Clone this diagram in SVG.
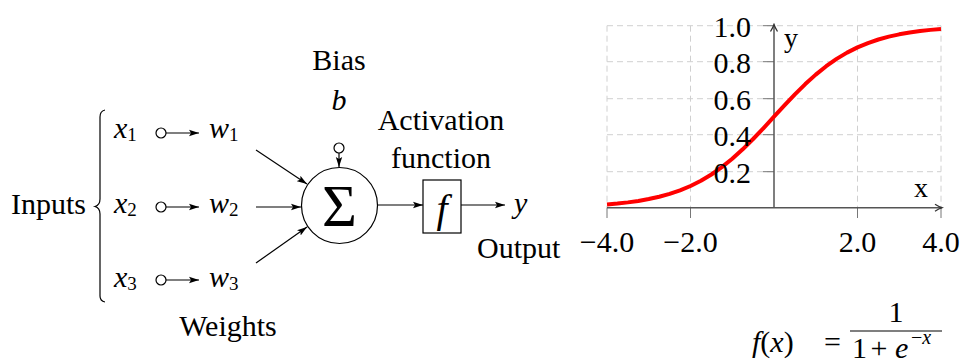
<svg xmlns="http://www.w3.org/2000/svg" width="962" height="363" viewBox="0 0 962 363" font-family="'Liberation Serif', 'Times New Roman', serif">
<style>
text{font-family:"Liberation Serif","Times New Roman",serif;fill:#000}
.t{font-size:30px}
.m{font-size:30px;font-style:italic}
.s{font-size:19px;font-style:normal}
.ln{stroke:#000;stroke-width:1.2;fill:none}
.grid{stroke:#d0d0d0;stroke-width:1;stroke-dasharray:6,4;fill:none}
.ax{stroke:#555;stroke-width:1.5;fill:none}
.tick{stroke:#777;stroke-width:1;fill:none}
</style>
<defs>
<marker id="ah" markerWidth="10" markerHeight="8" refX="10" refY="4" orient="auto" markerUnits="userSpaceOnUse"><path d="M0,0.8 L10,4 L0,7.2 L2,4 z" fill="#000"/></marker>
<marker id="ax" markerWidth="10" markerHeight="10" refX="8" refY="5" orient="auto" markerUnits="userSpaceOnUse"><path d="M1,1.5 Q5,4 8,5 Q5,6 1,8.5" fill="none" stroke="#333" stroke-width="1.3"/></marker>
</defs>

<g id="inputs-label"><text class="t" x="11" y="214">Inputs</text></g>
<g id="brace"><path class="ln" d="M105,110 Q100,111 100,117 L100,199 Q100,205 95,206.5 Q100,208 100,214 L100,296 Q100,301 105,302"/></g>

<g id="x1"><text class="m" x="114" y="138">x<tspan class="s" dy="3">1</tspan></text><circle class="ln" cx="161" cy="133" r="5"/></g>
<g id="x2"><text class="m" x="114" y="213">x<tspan class="s" dy="3">2</tspan></text><circle class="ln" cx="161" cy="207" r="5"/></g>
<g id="x3"><text class="m" x="114" y="287">x<tspan class="s" dy="3">3</tspan></text><circle class="ln" cx="161" cy="280" r="5"/></g>

<g id="w1"><text class="m" x="209" y="138">w<tspan class="s" dy="3">1</tspan></text></g>
<g id="w2"><text class="m" x="209" y="213">w<tspan class="s" dy="3">2</tspan></text></g>
<g id="w3"><text class="m" x="209" y="287">w<tspan class="s" dy="3">3</tspan></text></g>

<g id="weights-label"><text class="t" x="228" y="336" text-anchor="middle">Weights</text></g>

<g id="bias"><text class="t" x="339" y="70" text-anchor="middle">Bias</text><text class="m" x="339" y="110" text-anchor="middle">b</text><circle class="ln" cx="339" cy="148" r="5"/></g>

<g id="sum"><circle class="ln" cx="339.5" cy="205.5" r="38"/><text x="339.5" y="226" text-anchor="middle" style="font-size:60px">Σ</text></g>

<g id="activation-label"><text class="t" x="441" y="130" text-anchor="middle">Activation</text><text class="t" x="441" y="168" text-anchor="middle">function</text></g>

<g id="activation"><rect class="ln" x="423" y="180" width="38" height="53"/><text x="442" y="222" text-anchor="middle" style="font-size:40px;font-style:italic">f</text></g>

<g id="output"><text class="m" x="514" y="213">y</text></g>
<g id="output-label"><text class="t" x="477" y="258">Output</text></g>

<g id="connectors">
<line class="ln" x1="166" y1="133" x2="199" y2="133" marker-end="url(#ah)"/>
<line class="ln" x1="166" y1="207" x2="199" y2="207" marker-end="url(#ah)"/>
<line class="ln" x1="166" y1="280" x2="199" y2="280" marker-end="url(#ah)"/>
<line class="ln" x1="256" y1="150" x2="307" y2="184" marker-end="url(#ah)"/>
<line class="ln" x1="256" y1="207" x2="301" y2="207" marker-end="url(#ah)"/>
<line class="ln" x1="256" y1="263" x2="307" y2="227" marker-end="url(#ah)"/>
<line class="ln" x1="339" y1="153" x2="339" y2="167" marker-end="url(#ah)"/>
<line class="ln" x1="378" y1="205" x2="423" y2="205" marker-end="url(#ah)"/>
<line class="ln" x1="461" y1="205" x2="505" y2="205" marker-end="url(#ah)"/>
</g>

<g id="plot">
<g class="grid">
<line x1="607" y1="25.7" x2="941" y2="25.7"/>
<line x1="607" y1="61.7" x2="941" y2="61.7"/>
<line x1="607" y1="98.7" x2="941" y2="98.7"/>
<line x1="607" y1="134.7" x2="941" y2="134.7"/>
<line x1="607" y1="171.7" x2="941" y2="171.7"/>
<line x1="607" y1="25.7" x2="607" y2="207.7"/>
<line x1="690.5" y1="25.7" x2="690.5" y2="207.7"/>
<line x1="857.5" y1="25.7" x2="857.5" y2="207.7"/>
<line x1="941" y1="25.7" x2="941" y2="207.7"/>
</g>
<g class="tick">
<line x1="607" y1="207.7" x2="607" y2="218"/>
<line x1="690.5" y1="207.7" x2="690.5" y2="218"/>
<line x1="857.5" y1="207.7" x2="857.5" y2="218"/>
<line x1="941" y1="207.7" x2="941" y2="218"/>
<line x1="763" y1="25.7" x2="774" y2="25.7"/>
<line x1="763" y1="61.7" x2="774" y2="61.7"/>
<line x1="763" y1="98.7" x2="774" y2="98.7"/>
<line x1="763" y1="134.7" x2="774" y2="134.7"/>
<line x1="763" y1="171.7" x2="774" y2="171.7"/>
</g>
<line class="ax" x1="607" y1="207.7" x2="942" y2="207.7" marker-end="url(#ax)"/>
<line class="ax" x1="774" y1="207.7" x2="774" y2="24.5" marker-end="url(#ax)"/>
<polyline fill="none" stroke="#f00" stroke-width="4" stroke-linejoin="round" points="607,204.43 617.44,203.52 627.9,202.37 638.31,200.91 648.75,199.07 659.19,196.76 669.6,193.89 680.06,190.35 690.5,186.01 700.94,180.76 711.4,174.5 721.81,167.17 732.25,158.76 742.69,149.31 753.1,139.0 763.56,128.02 774,116.7 784.44,105.38 794.9,94.4 805.31,84.09 815.75,74.64 826.19,66.23 836.6,58.9 847.06,52.64 857.5,47.39 867.94,43.05 878.4,39.51 888.81,36.64 899.25,34.33 909.69,32.49 920.1,31.03 930.56,29.88 941,28.97"/>
<g class="t" text-anchor="end">
<text x="751" y="37">1.0</text>
<text x="751" y="73">0.8</text>
<text x="751" y="110">0.6</text>
<text x="751" y="146">0.4</text>
<text x="751" y="183">0.2</text>
</g>
<g class="t" text-anchor="middle">
<text x="607" y="252">−4.0</text>
<text x="690.5" y="252">−2.0</text>
<text x="857.5" y="252">2.0</text>
<text x="941" y="252">4.0</text>
</g>
<text x="784" y="47" style="font-size:28px">y</text>
<text x="914" y="197" style="font-size:28px">x</text>
</g>

<g id="formula">
<text class="t" x="752" y="352"><tspan font-style="italic">f</tspan>(<tspan font-style="italic">x</tspan>)</text>
<text class="t" x="841" y="352" text-anchor="end">=</text>
<line class="ln" x1="850" y1="331" x2="942" y2="331"/>
<text class="t" x="896" y="322" text-anchor="middle">1</text>
<text class="t" x="852" y="358">1</text>
<text class="t" x="879" y="358" text-anchor="middle">+</text>
<text class="m" x="895" y="358">e</text>
<text x="911" y="344" style="font-size:20px">−<tspan font-style="italic">x</tspan></text>
</g>
</svg>
